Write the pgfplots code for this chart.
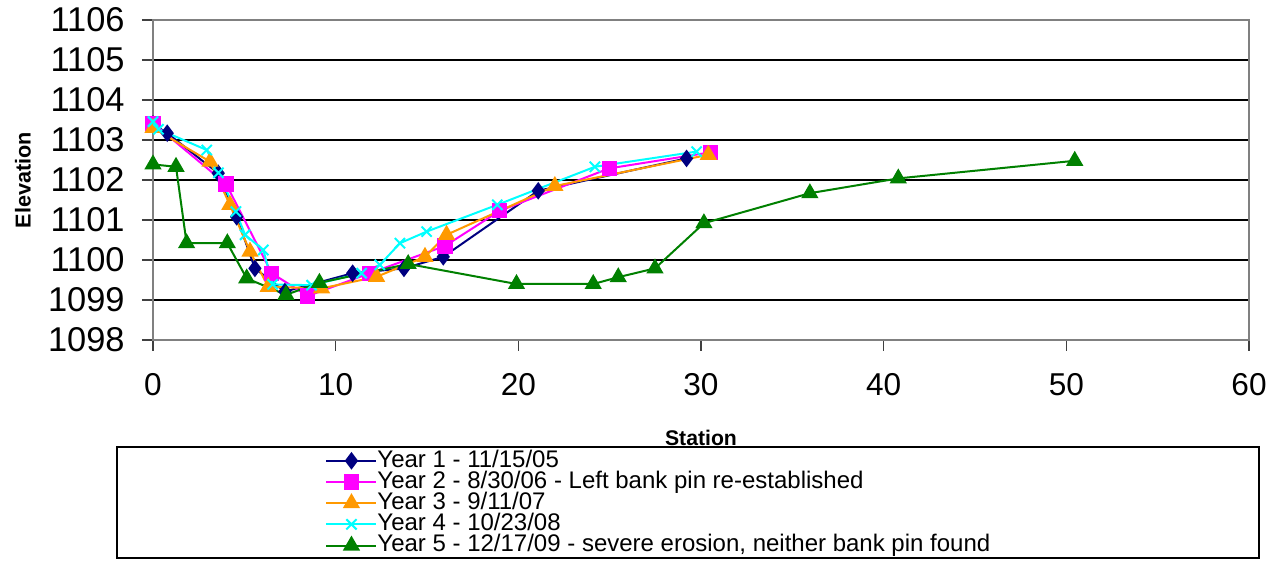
\documentclass[border=0pt]{standalone}
\usepackage{fontspec}
\setmainfont{Liberation Sans}
\usepackage{graphicx}
\usepackage{pgfplots}
\pgfplotsset{compat=1.18}
\definecolor{yone}{RGB}{0,0,128}
\definecolor{ytwo}{RGB}{255,0,255}
\definecolor{ythree}{RGB}{255,153,0}
\definecolor{yfour}{RGB}{0,255,255}
\definecolor{yfive}{RGB}{0,128,0}
\definecolor{axgray}{RGB}{128,128,128}
\begin{document}
\begin{tikzpicture}
\useasboundingbox (-76.5pt,-110.5pt) rectangle (560.5pt,170pt);
\begin{axis}[
  at={(0,0)}, anchor=south west,
  scale only axis, width=548pt, height=160pt,
  xmin=0, xmax=60, ymin=1098, ymax=1106,
  enlargelimits=false,
  xtick={0,10,...,60}, ytick={1098,1099,...,1106},
  xtick pos=bottom, ytick pos=left,
  tick align=outside, major tick length=5.5pt,
  tick style={draw=black!75, line width=0.6pt},
  axis line style={draw=axgray, line width=1pt},
  ymajorgrids, grid style={draw=black, line width=0.6pt},
  /pgf/number format/1000 sep={},
  /pgf/number format/assume math mode=true,
  yticklabel style={font=\fontsize{17.2}{18}\selectfont, anchor=east, inner sep=0pt, xshift=-8.5pt},
  xticklabel style={font=\fontsize{15.8}{17}\selectfont, anchor=north, inner sep=0pt, yshift=-11pt},
  xlabel={Station}, ylabel={Elevation},
  every axis x label/.style={at={(axis description cs:0.5,-0.306)}, anchor=center, font=\fontsize{10.6}{12}\selectfont\bfseries},
  every axis y label/.style={at={(axis description cs:-0.1186,0.5)}, anchor=center, rotate=90, font=\fontsize{10.8}{12}\selectfont\bfseries},
  legend cell align=left,
  legend image code/.code={\draw[mark repeat=2,mark phase=2,#1] plot coordinates {(0pt,0pt)(12.5pt,0pt)(25pt,0pt)};},
  legend style={at={(0.157,-0.343)}, anchor=north west, draw=none, fill=none,
    font=\fontsize{12}{12}\selectfont, inner sep=0pt, row sep=0pt,
    nodes={inner sep=0pt, text height=8.5pt, text depth=2.1pt, xshift=1.5pt}},
  every axis plot/.append style={line width=1pt},
]
\addplot[color=yone, mark=diamond*, mark size=3.6pt, mark options={solid, fill=yone}] coordinates {
 (0,1103.4) (0.78,1103.17) (3.57,1102.17) (4.58,1101.08) (5.58,1099.79) (7.22,1099.21)
 (10.93,1099.67) (13.74,1099.79) (15.89,1100.08) (21.09,1101.73) (29.21,1102.54)
};
\addlegendentry{Year 1 - 11/15/05}
\addplot[color=ytwo, mark=square*, mark size=3.3pt, mark options={solid, fill=ytwo}] coordinates {
 (0,1103.42) (4.0,1101.9) (6.5,1099.67) (8.47,1099.1) (11.88,1099.67) (15.98,1100.35)
 (18.99,1101.23) (24.97,1102.29) (30.5,1102.69)
};
\addlegendentry{Year 2 - 8/30/06 - Left bank pin re-established}
\addplot[color=ythree, mark=triangle*, mark size=4pt, mark options={solid, fill=ythree}] coordinates {
 (0,1103.3) (3.12,1102.46) (4.21,1101.38) (5.31,1100.21) (6.31,1099.33) (9.23,1099.29)
 (12.24,1099.58) (14.89,1100.08) (16.07,1100.63) (22.0,1101.85) (30.4,1102.63)
};
\addlegendentry{Year 3 - 9/11/07}
\addplot[color=yfour, mark=x, mark size=3.6pt, mark options={solid, line width=1pt}] coordinates {
 (0,1103.46) (0.3,1103.27) (2.94,1102.75) (3.58,1102.18) (4.54,1101.21) (5.04,1100.63)
 (6.04,1100.25) (6.55,1099.39) (8.68,1099.37) (11.42,1099.67) (12.42,1099.88)
 (13.52,1100.42) (14.98,1100.71) (18.85,1101.38) (24.19,1102.33) (29.76,1102.71)
};
\addlegendentry{Year 4 - 10/23/08}
\addplot[color=yfive, mark=triangle*, mark size=4pt, mark options={solid, fill=yfive}] coordinates {
 (0,1102.39) (1.26,1102.33) (1.84,1100.42) (4.07,1100.42) (5.13,1099.54) (7.28,1099.13)
 (9.11,1099.43) (13.97,1099.9) (19.9,1099.4) (24.1,1099.4) (25.47,1099.57) (27.48,1099.79)
 (30.16,1100.92) (35.96,1101.67) (40.8,1102.04) (50.46,1102.48)
};
\addlegendentry{Year 5 - 12/17/09 - severe erosion, neither bank pin found}
\end{axis}
\draw[black, line width=0.6pt] (-18pt,-53.5pt) rectangle (553pt,-109pt);
\end{tikzpicture}
\end{document}
